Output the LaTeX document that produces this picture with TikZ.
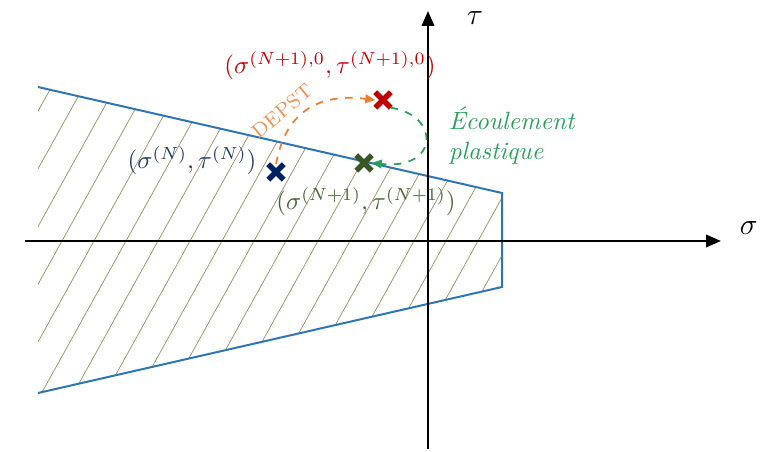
\documentclass[tikz,border=0pt]{standalone}
\usepackage{tikz}
\usetikzlibrary{positioning, arrows.meta, shapes.misc}
\usepackage{amsmath,amssymb}

\definecolor{critblue}{RGB}{46,117,182}
\definecolor{hatchcol}{RGB}{150,150,105}
\definecolor{navyx}{RGB}{0,32,96}
\definecolor{navytxt}{RGB}{32,56,100}
\definecolor{redx}{RGB}{192,0,0}
\definecolor{greenx}{RGB}{56,87,35}
\definecolor{greentxt}{RGB}{70,100,50}
\definecolor{depstcol}{RGB}{237,125,49}
\definecolor{flowcol}{RGB}{40,160,90}

\begin{document}
\begin{tikzpicture}[x=0.4pt, y=-0.4pt,
  axis/.style={line width=0.8pt, -{Triangle[length=6pt, width=5pt]}},
  crit/.style={draw=critblue, line width=0.8pt},
  hatch/.style={draw=hatchcol, line width=0.3pt},
  xmark/.style={cross out, draw, line width=2.2pt, minimum size=4pt, inner sep=0pt},
  ptlbl/.style={font=\fontsize{10.2}{12}\selectfont},
  depst/.style={dashed, line width=0.7pt, draw=depstcol, -{Triangle[length=4pt, width=3.5pt]}},
  flow/.style={dashed, line width=0.7pt, draw=flowcol, -{Triangle[length=4pt, width=3.5pt]}},
]
\useasboundingbox (0,0) rectangle (768,452);

% --- Admissible domain ---
\coordinate (tl) at (38,87);
\coordinate (tr) at (502,193);
\coordinate (br) at (502,287);
\coordinate (bl) at (38,393);

\begin{scope}
  \clip (tl) -- (tr) -- (br) -- (bl) -- cycle;
  \foreach \k in {-12,...,20}
    \draw[hatch] ({62+32*\k-222},{241+400}) -- ({62+32*\k+222},{241-400});
\end{scope}
\draw[crit] (tl) -- (tr) -- (br) -- (bl);

% --- Axes ---
\coordinate (sigL) at (25,241);
\coordinate (sigR) at (721,241);
\coordinate (tauB) at (428,449);
\coordinate (tauT) at (428,11);
\draw[axis] (sigL) -- (sigR);
\draw[axis] (tauB) -- (tauT);
\node[font=\large, right=4pt of sigR, yshift=5pt] (siglbl) {$\sigma$};
\node[font=\large, right=12pt of tauT, yshift=-3pt] (taulbl) {$\tau$};

% --- States ---
\node[xmark, draw=navyx] (pN) at (276,172) {};
\node[xmark, draw=redx] (pNpz) at (383,100) {};
\node[xmark, draw=greenx] (pNp) at (364,163) {};

\node[ptlbl, text=navytxt] (lblN) at (192,161) {$(\sigma^{(N)},\tau^{(N)})$};
\node[ptlbl, text=redx] (lblNpz) at (330,66) {$(\sigma^{(N+1),0},\tau^{(N+1),0})$};
\node[ptlbl, text=greentxt] (lblNp) at (366,202) {$(\sigma^{(N+1)},\tau^{(N+1)})$};

% --- Steps ---
\draw[depst] (pN.north) .. controls (284,120) and (310,92) .. (pNpz.west);
\draw[flow] (pNpz.south east) .. controls (440,115) and (440,170) .. (pNp.east);

\node[font=\footnotesize, text=depstcol!85, rotate=40] (depstlbl) at (282,111) {DEPST};
\node[align=left, font=\itshape, text=flowcol, anchor=west] (flowlbl) at (440,136) {\'Ecoulement\\plastique};

\end{tikzpicture}
\end{document}
